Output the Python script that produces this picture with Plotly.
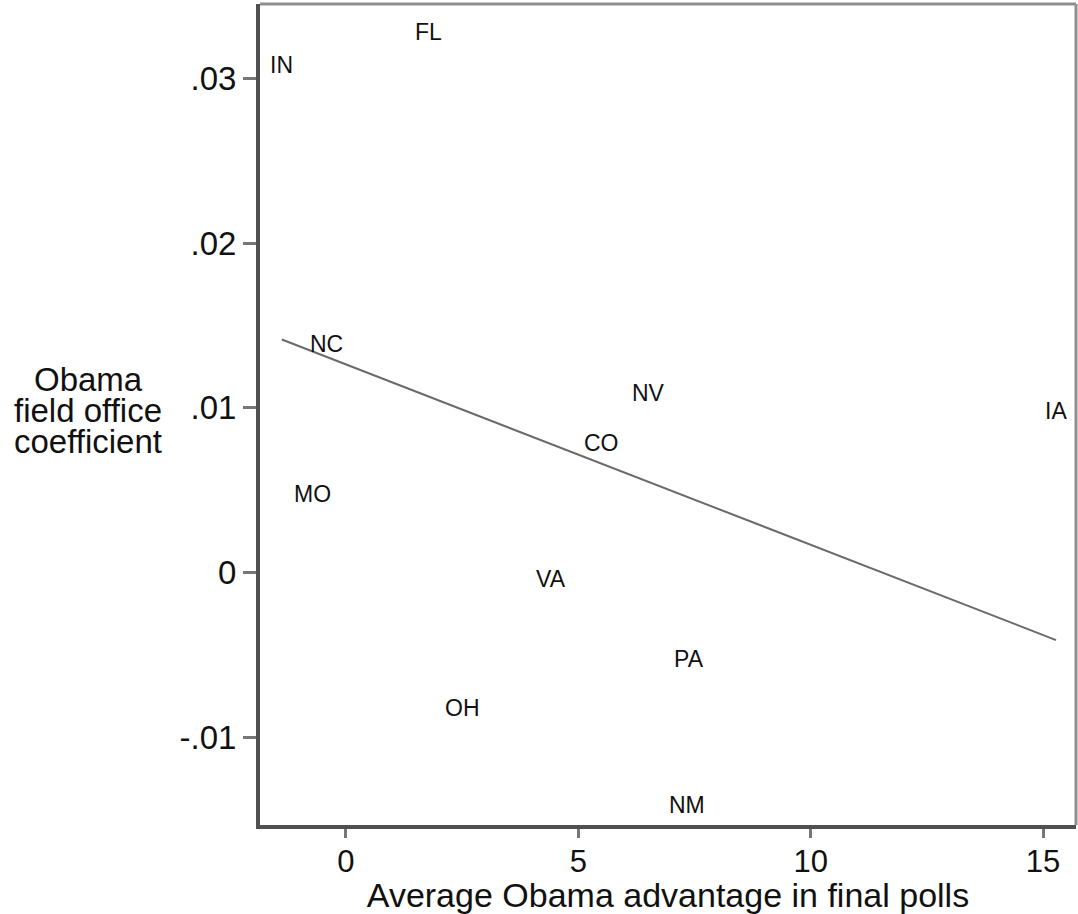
import numpy as np
import plotly.graph_objects as go

# State-level estimates: average Obama poll lead vs. field office coefficient
states = ["IN", "FL", "NC", "NV", "IA", "CO", "MO", "VA", "PA", "OH", "NM"]
poll_advantage = [-1.38, 1.77, -0.41, 6.51, 15.28, 5.50, -0.73, 4.42, 7.39, 2.50, 7.33]
field_office_coef = [0.0311, 0.0331, 0.0142, 0.0112, 0.0101, 0.0082, 0.0051,
                     -0.0001, -0.0049, -0.0079, -0.0138]

x_ticks = [0, 5, 10, 15]
x_tick_labels = ["0", "5", "10", "15"]
y_ticks = [-0.01, 0, 0.01, 0.02, 0.03]
y_tick_labels = ["-.01", "0", ".01", ".02", ".03"]
y_title_lines = ["Obama", "field office", "coefficient"]

# Linear fit across the states
slope, intercept = np.polyfit(poll_advantage, field_office_coef, 1)
fit_x = [min(poll_advantage), max(poll_advantage)]
fit_y = [intercept + slope * v for v in fit_x]

font_family = "Liberation Sans, Arial, sans-serif"
text_color = "#111111"

fig = go.Figure()
fig.add_trace(go.Scatter(
    x=fit_x, y=fit_y, mode="lines",
    line=dict(color="#6a6a6a", width=2),
    hoverinfo="skip", showlegend=False,
))

# State abbreviations drawn at each point
annotations = [
    dict(x=xv, y=yv, xref="x", yref="y", text=s, showarrow=False,
         xanchor="center", yanchor="middle", yshift=-5,
         font=dict(family=font_family, size=23, color=text_color))
    for s, xv, yv in zip(states, poll_advantage, field_office_coef)
]

# Horizontal, tightly stacked y-axis title
plot_top, plot_bottom, plot_left, plot_right = 4, 825, 260, 1076
for i, line in enumerate(y_title_lines):
    py = 379 + 31 * i
    annotations.append(dict(
        text=line, xref="paper", yref="paper",
        x=(88 - plot_left) / (plot_right - plot_left),
        y=(plot_bottom - py) / (plot_bottom - plot_top),
        xanchor="center", yanchor="middle", showarrow=False,
        font=dict(size=33, family=font_family, color=text_color)))

fig.update_layout(
    width=1078, height=914,
    margin=dict(l=plot_left, r=1078 - plot_right, t=plot_top, b=914 - plot_bottom),
    paper_bgcolor="white", plot_bgcolor="white",
    font=dict(family=font_family, color=text_color),
    xaxis=dict(
        range=[-1.85, 15.71], tickmode="array",
        tickvals=x_ticks, ticktext=x_tick_labels,
        ticks="outside", ticklen=9, tickwidth=3, tickcolor="#777777",
        ticklabelstandoff=-3,
        tickfont=dict(size=31), showgrid=False, zeroline=False,
        showline=True, linecolor="#505050", linewidth=4, mirror=False,
        title=dict(text="Average Obama advantage in final polls",
                   font=dict(size=34), standoff=0),
    ),
    yaxis=dict(
        range=[-0.0153, 0.0345], tickmode="array",
        tickvals=y_ticks, ticktext=y_tick_labels,
        ticks="outside", ticklen=13, tickwidth=3, tickcolor="#777777",
        ticklabelstandoff=0,
        tickfont=dict(size=33), showgrid=False, zeroline=False,
        showline=True, linecolor="#505050", linewidth=4, mirror=False,
    ),
    shapes=[
        dict(type="line", xref="paper", yref="paper", x0=0, x1=1, y0=1, y1=1,
             line=dict(color="#8f8f8f", width=3)),
        dict(type="line", xref="paper", yref="paper", x0=1, x1=1, y0=0, y1=1,
             line=dict(color="#8f8f8f", width=3)),
    ],
    annotations=annotations,
)

fig.write_html("out.html")
